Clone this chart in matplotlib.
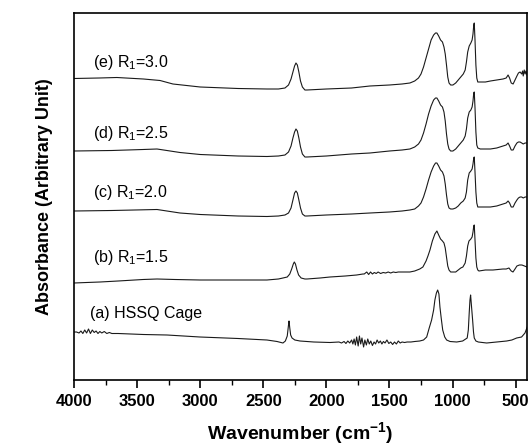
import numpy as np
import matplotlib.pyplot as plt
from matplotlib.ticker import MultipleLocator

plt.rcParams['font.family'] = ['Liberation Sans', 'DejaVu Sans']
plt.rcParams['mathtext.fontset'] = 'custom'
plt.rcParams['mathtext.rm'] = 'Liberation Sans'
plt.rcParams['mathtext.it'] = 'Liberation Sans:italic'
plt.rcParams['mathtext.bf'] = 'Liberation Sans:bold'

# --- spectra (wavenumber, stacked absorbance in arbitrary units) ---
wn_e = [4000, 3800, 3660, 3450, 3318, 3216, 3000, 2700, 2471, 2380, 2328, 2300, 2280, 2265,
        2252, 2241, 2230, 2218, 2205, 2190, 2170, 2154, 2000, 1800, 1655, 1500, 1400, 1338,
        1300, 1270, 1250, 1230, 1210, 1190, 1170, 1150, 1135, 1124, 1110, 1095, 1080, 1068,
        1058, 1048, 1038, 1028, 1015, 997, 975, 955, 935, 915, 900, 890, 880, 868, 855, 845,
        838, 832, 828, 822, 815, 808, 800, 780, 740, 700, 650, 600, 575, 560, 548, 535, 520,
        505, 490, 478, 465, 452, 445, 440, 432, 425, 418, 410]
abs_e = [301.5, 302, 302.5, 301, 299.5, 296, 293, 291.5, 291, 291, 292, 295, 301, 308,
         314, 317, 315, 308, 299, 293, 290, 290, 291, 292, 294, 295, 296, 297,
         299, 302, 306, 313, 322, 331, 340, 345, 347, 347, 344, 340, 338, 333,
         326, 315, 303, 297, 295, 295, 297, 300, 303, 306, 310, 318, 328, 334, 337, 340,
         346, 355, 357, 340, 315, 302, 298, 298, 298, 299, 300, 301, 302, 305, 302, 297, 296,
         300, 304, 307, 308, 306, 309, 304, 310, 306, 309, 305]

wn_d = [4000, 3700, 3453, 3342, 3160, 3000, 2700, 2471, 2380, 2328, 2300, 2280, 2265, 2252,
        2241, 2230, 2218, 2205, 2190, 2170, 2154, 2000, 1800, 1655, 1500, 1400, 1338, 1300,
        1270, 1250, 1230, 1210, 1190, 1170, 1150, 1135, 1124, 1110, 1095, 1080, 1068, 1058,
        1048, 1038, 1028, 1015, 997, 975, 955, 935, 915, 900, 890, 880, 868, 855, 845, 838,
        832, 828, 822, 815, 808, 800, 780, 740, 700, 650, 600, 575, 560, 548, 535, 520, 505,
        490, 478, 465, 452, 440, 425, 410]
abs_d = [229, 229.5, 230.5, 231, 227.5, 225.5, 224, 223.5, 224, 225, 228, 234, 242, 248,
         251, 249, 242, 233, 226, 223, 223, 224, 226, 227, 229, 230, 231, 233,
         236, 240, 247, 256, 266, 274, 280, 282, 282, 279, 275, 273, 268, 259,
         246, 236, 231, 229, 229, 231, 234, 237, 240, 244, 251, 262, 268, 270, 273, 279,
         287, 288, 272, 248, 235, 232, 231, 231, 231, 232, 234, 235, 237, 234, 230, 230, 234,
         237, 238, 238, 237, 236, 237, 237]

wn_c = [4000, 3700, 3342, 3160, 3000, 2700, 2471, 2380, 2328, 2300, 2280, 2265, 2252, 2241,
        2230, 2218, 2205, 2190, 2170, 2154, 2000, 1800, 1655, 1500, 1400, 1338, 1300, 1270,
        1250, 1230, 1210, 1190, 1170, 1150, 1135, 1124, 1110, 1095, 1080, 1068, 1058, 1048,
        1038, 1028, 1015, 997, 975, 955, 935, 915, 900, 890, 880, 868, 855, 845, 838, 832,
        828, 822, 815, 808, 800, 780, 740, 700, 650, 600, 575, 560, 548, 535, 520, 505, 490,
        478, 465, 452, 440, 425, 410]
abs_c = [169, 169.5, 170.5, 167, 165.5, 164, 163.5, 164, 165, 167, 172, 180, 187, 189,
         187, 180, 172, 166, 164, 164, 165, 166, 167, 168, 169, 170, 171, 174,
         177, 183, 191, 200, 208, 214, 217, 217, 214, 210, 208, 204, 196, 185,
         176, 172, 171, 171, 172, 174, 177, 179, 182, 188, 200, 207, 209, 211, 216, 222,
         223, 208, 188, 177, 173, 173, 173, 173, 174, 176, 177, 179, 177, 173, 173, 177, 180,
         182, 183, 183, 182, 183, 183]

wn_b = [4000, 3900, 3794, 3650, 3453, 3342, 3200, 3000, 2700, 2471, 2380, 2344, 2310, 2290,
        2275, 2262, 2254, 2245, 2233, 2220, 2200, 2170, 2154, 2050, 1971, 1850, 1760, 1710,
        1700, 1680, 1665, 1650, 1635, 1620, 1605, 1590, 1570, 1550, 1530, 1510, 1490, 1470,
        1450, 1430, 1338, 1300, 1260, 1235, 1210, 1195, 1179, 1160, 1140, 1124, 1110, 1095,
        1080, 1068, 1058, 1048, 1038, 1028, 1015, 997, 975, 955, 935, 918, 900, 890, 880,
        870, 855, 845, 838, 832, 828, 822, 815, 808, 800, 791, 740, 680, 600, 575, 553, 535,
        521, 505, 490, 470, 450, 430, 410]
abs_b = [97, 97.5, 98, 99, 100.5, 101, 100.5, 100, 100, 100, 101, 102, 103, 106,
         111, 116, 118, 116, 110, 105, 102, 101, 101, 102, 103, 104, 105, 106,
         106, 108, 105.5, 108, 106, 107.5, 106.5, 108, 106.5, 107.5, 107, 108, 107, 108,
         107.5, 108, 108, 109, 111, 113, 119, 124, 130, 139, 146, 149, 145, 141,
         139, 137, 132, 123, 114, 110, 108, 108, 108, 110, 112, 113, 117, 124, 134,
         139, 141, 143, 148, 154, 155, 140, 122, 113, 110, 109, 110, 110, 111, 111, 112, 109,
         108, 111, 114, 115, 115, 114, 113]

wn_a = [4000, 3980, 3960, 3945, 3930, 3915, 3900, 3885, 3870, 3855, 3840, 3825, 3810, 3795,
        3780, 3760, 3740, 3720, 3700, 3650, 3550, 3450, 3263, 3002, 2700, 2471, 2391, 2344,
        2325, 2310, 2300, 2296, 2290, 2283, 2272, 2250, 2209, 2100, 1971, 1900, 1880, 1860,
        1845, 1830, 1815, 1800, 1790, 1780, 1770, 1760, 1748, 1738, 1728, 1718, 1705, 1695,
        1683, 1672, 1660, 1648, 1635, 1622, 1610, 1598, 1585, 1572, 1560, 1548, 1535, 1520,
        1505, 1490, 1475, 1460, 1445, 1430, 1415, 1400, 1380, 1360, 1330, 1300, 1260, 1230,
        1205, 1185, 1166, 1150, 1140, 1128, 1118, 1108, 1100, 1090, 1078, 1062, 1047, 1020,
        967, 920, 884, 875, 868, 862, 857, 850, 841, 834, 828, 815, 796, 730, 650, 571, 530,
        492, 453, 426, 408]
abs_a = [48, 48, 47, 49, 46.5, 50, 47, 51, 46.5, 50, 47.5, 49, 46.5, 48.5,
         47, 48.5, 46.5, 47.5, 46.5, 46.5, 46, 45.5, 45, 43, 41.5, 40, 38.5, 37,
         39, 44, 55, 59, 52, 45, 42, 40, 39, 38, 37.5, 38, 37, 38.5,
         36.5, 39, 37, 40, 36, 41, 35, 43, 34, 44, 36, 42, 33, 40,
         35, 41, 36, 39, 34.5, 38, 36, 40, 37, 39, 36, 38.5, 37, 40,
         36.5, 38, 35.5, 38, 36, 39, 37, 38, 37.5, 38, 38, 38.5, 39, 40,
         43, 52, 60, 70, 80, 87, 90, 86, 73, 62, 50, 43, 40, 38.5,
         38, 39, 42, 50, 67, 80, 85, 74, 60, 48, 42, 39, 38, 37, 38, 39, 40,
         42, 43, 47, 53]

labels = ['(a) HSSQ Cage', '(b) R$_1$=1.5', '(c) R$_1$=2.0', '(d) R$_1$=2.5', '(e) R$_1$=3.0']
spectra = [(wn_a, abs_a), (wn_b, abs_b), (wn_c, abs_c), (wn_d, abs_d), (wn_e, abs_e)]
label_pos = [(0.036, 0.180), (0.042, 0.333), (0.042, 0.512), (0.042, 0.672), (0.042, 0.866)]

fig = plt.figure(figsize=(5.29, 4.48), dpi=100)
ax = fig.add_axes([74 / 529, 68 / 448, 453 / 529, 367 / 448])

for (wn, ab), lab, (tx, ty) in zip(spectra, labels, label_pos):
    ax.plot(wn, ab, color='#1a1a1a', lw=0.8)
    ax.text(tx, ty, lab, transform=ax.transAxes, fontsize=11.5, va='center', ha='left')

ax.set_xlim(4000, 410)
ax.set_ylim(0, 367)
ax.xaxis.set_major_locator(MultipleLocator(500))
ax.xaxis.set_minor_locator(MultipleLocator(250))
ax.tick_params(axis='x', which='major', direction='out', length=6, width=1.2, pad=4)
ax.tick_params(axis='x', which='minor', direction='out', length=3.5, width=1.0)
ax.tick_params(axis='y', left=False, labelleft=False)
for lab in ax.get_xticklabels():
    lab.set_fontweight('bold')
    lab.set_fontsize(12)
for sp in ax.spines.values():
    sp.set_linewidth(1.2)

ax.set_xlabel('Wavenumber (cm$^{\\mathbf{-1}}$)', fontsize=14, fontweight='bold', labelpad=8)
ax.set_ylabel('Absorbance (Arbitrary Unit)', fontsize=13, fontweight='bold', labelpad=15)

fig.savefig('out.png', dpi=100)
